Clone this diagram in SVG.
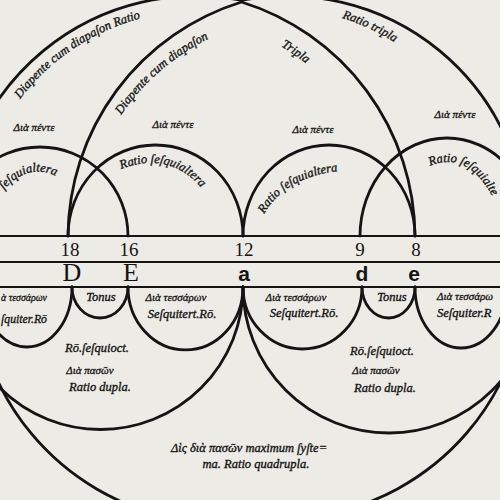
<svg xmlns="http://www.w3.org/2000/svg" width="500" height="500" viewBox="0 0 500 500">
<defs>
<style>
.ln{fill:none;stroke:#141414;stroke-width:2.8;stroke-linecap:round}
.hl{fill:none;stroke:#141414;stroke-width:2}
.t{font-family:"Liberation Serif","DejaVu Serif",serif;font-style:italic;fill:#141414;stroke:#141414;stroke-width:0.35;font-size:12.5px}
.g{font-family:"Liberation Serif","DejaVu Serif",serif;font-style:italic;fill:#141414;stroke:#141414;stroke-width:0.3;font-size:11px}
.n{font-family:"Liberation Serif","DejaVu Serif",serif;fill:#141414;font-size:19px;text-anchor:middle}
.L{font-family:"Liberation Serif","DejaVu Serif",serif;fill:#141414;font-size:26px;text-anchor:middle}
.b{font-family:"Liberation Sans","DejaVu Sans",sans-serif;font-weight:bold;fill:#141414;font-size:21px;text-anchor:middle}
.m{text-anchor:middle}
</style>
<path id="pOutL" d="M20,99 A224,224 0 0 1 225,12.5"/>
<path id="pInL" d="M121,115 A228,228 0 0 1 240,26"/>
<path id="pInR" d="M281,46.4 A221,221 0 0 1 350,110"/>
<path id="pOutR" d="M342,18 A225,225 0 0 1 440,80"/>
<path id="pA1" d="M4,190 Q32,157 68,183"/>
<path id="pA2" d="M121,169 Q182,146 216,210"/>
<path id="pA3" d="M264,214 Q288,172 354,170"/>
<path id="pA4" d="M430,166 Q472,148 499,210"/>
</defs>
<rect width="500" height="500" fill="#edebe5"/>

<g id="scale">
<line class="hl" x1="0" y1="236" x2="500" y2="236"/>
<line class="hl" x1="0" y1="262" x2="500" y2="262"/>
<line class="hl" x1="0" y1="287" x2="500" y2="287"/>
<text class="n" x="70" y="256">18</text>
<text class="n" x="129" y="256">16</text>
<text class="n" x="244" y="256">12</text>
<text class="n" x="360" y="256">9</text>
<text class="n" x="416" y="256">8</text>
<text class="L" x="72" y="281">D</text>
<text class="L" x="131" y="281">E</text>
<text class="b" x="244" y="281">a</text>
<text class="b" x="362" y="281">d</text>
<text class="b" x="414" y="281">e</text>
</g>

<g id="arcs">
<path class="ln" d="M-48,236 A88,89 0 0 1 128,236"/>
<path class="ln" d="M68,236 A87.5,91 0 0 1 243,236"/>
<path class="ln" d="M243,236 A86,91 0 0 1 415,236"/>
<path class="ln" d="M360,236 A87,98 0 0 1 534,236"/>
<path class="ln" d="M68,236 A246.6,246.6 0 0 1 241.5,2 A246.6,246.6 0 0 1 415,236"/>
<path class="ln" d="M-44,236 A240,240 0 0 1 241.5,0.4 A240,240 0 0 1 527,236"/>
<path class="ln" d="M-18,287 A45,60 0 0 0 72,287"/>
<path class="ln" d="M72,287 A28,31 0 0 0 128,287"/>
<path class="ln" d="M128,287 A57.5,63 0 0 0 243,287"/>
<path class="ln" d="M243,287 A59.5,62 0 0 0 362,287"/>
<path class="ln" d="M362,287 A26.5,31 0 0 0 415,287"/>
<path class="ln" d="M415,287 A46,61 0 0 0 507,287"/>
<path class="ln" d="M-42,287 A142,142 0 0 0 243,287"/>
<path class="ln" d="M243,287 A146,146 0 0 0 535,287"/>
<path class="ln" d="M-10,362.6 A248,248 0 0 0 260,520.1"/>
<path class="ln" d="M230,514.1 A248,248 0 0 0 510,361.2"/>
</g>

<g id="labels">
<text class="t" font-size="14.5"><textPath href="#pOutL">Diapente cum diapaſon Ratio</textPath></text>
<text class="t" font-size="14"><textPath href="#pInL">Diapente cum diapaſon</textPath></text>
<text class="t" font-size="14"><textPath href="#pInR">Tripla</textPath></text>
<text class="t" font-size="14"><textPath href="#pOutR">Ratio tripla</textPath></text>
<text class="t" font-size="13.5"><textPath href="#pA1">ſeſquialtera</textPath></text>
<text class="t" font-size="14"><textPath href="#pA2">Ratio ſeſquialtera</textPath></text>
<text class="t" font-size="14"><textPath href="#pA3">Ratio ſeſquialtera</textPath></text>
<text class="t" font-size="14"><textPath href="#pA4">Ratio ſeſquialte</textPath></text>
<text class="g m" x="34" y="131">Διὰ πέντε</text>
<text class="g m" x="173" y="128">Διὰ πέντε</text>
<text class="g m" x="313" y="133">Διὰ πέντε</text>
<text class="g m" x="455" y="118">Διὰ πέντε</text>

<text class="g" x="1" y="301" textLength="46" lengthAdjust="spacingAndGlyphs">ὰ τεσσάρων</text>
<text class="t" x="1" y="323" textLength="46" lengthAdjust="spacingAndGlyphs">ſquiter.Rō</text>
<text class="t m" x="101" y="301">Tonus</text>
<text class="g m" x="176" y="301">Διὰ τεσσάρων</text>
<text class="t m" x="182" y="318">Seſquitert.Rō.</text>
<text class="g m" x="296" y="301">Διὰ τεσσάρων</text>
<text class="t m" x="304" y="317">Seſquitert.Rō.</text>
<text class="t m" x="392" y="301">Tonus</text>
<text class="g" x="437" y="300">Διὰ τεσσάρω</text>
<text class="t" x="437" y="317">Seſquiter.R</text>

<text class="t m" x="97" y="352">Rō.ſeſquioct.</text>
<text class="g m" x="90" y="374">Διὰ πασῶν</text>
<text class="t m" x="100" y="391">Ratio dupla.</text>
<text class="t m" x="382" y="355">Rō.ſeſquioct.</text>
<text class="g m" x="376" y="374">Διὰ πασῶν</text>
<text class="t m" x="385" y="392">Ratio dupla.</text>
<text class="t m" x="249" y="452">Δὶς διὰ πασῶν maximum ſyſte=</text>
<text class="t m" x="256" y="468">ma. Ratio quadrupla.</text>
</g>
</svg>
